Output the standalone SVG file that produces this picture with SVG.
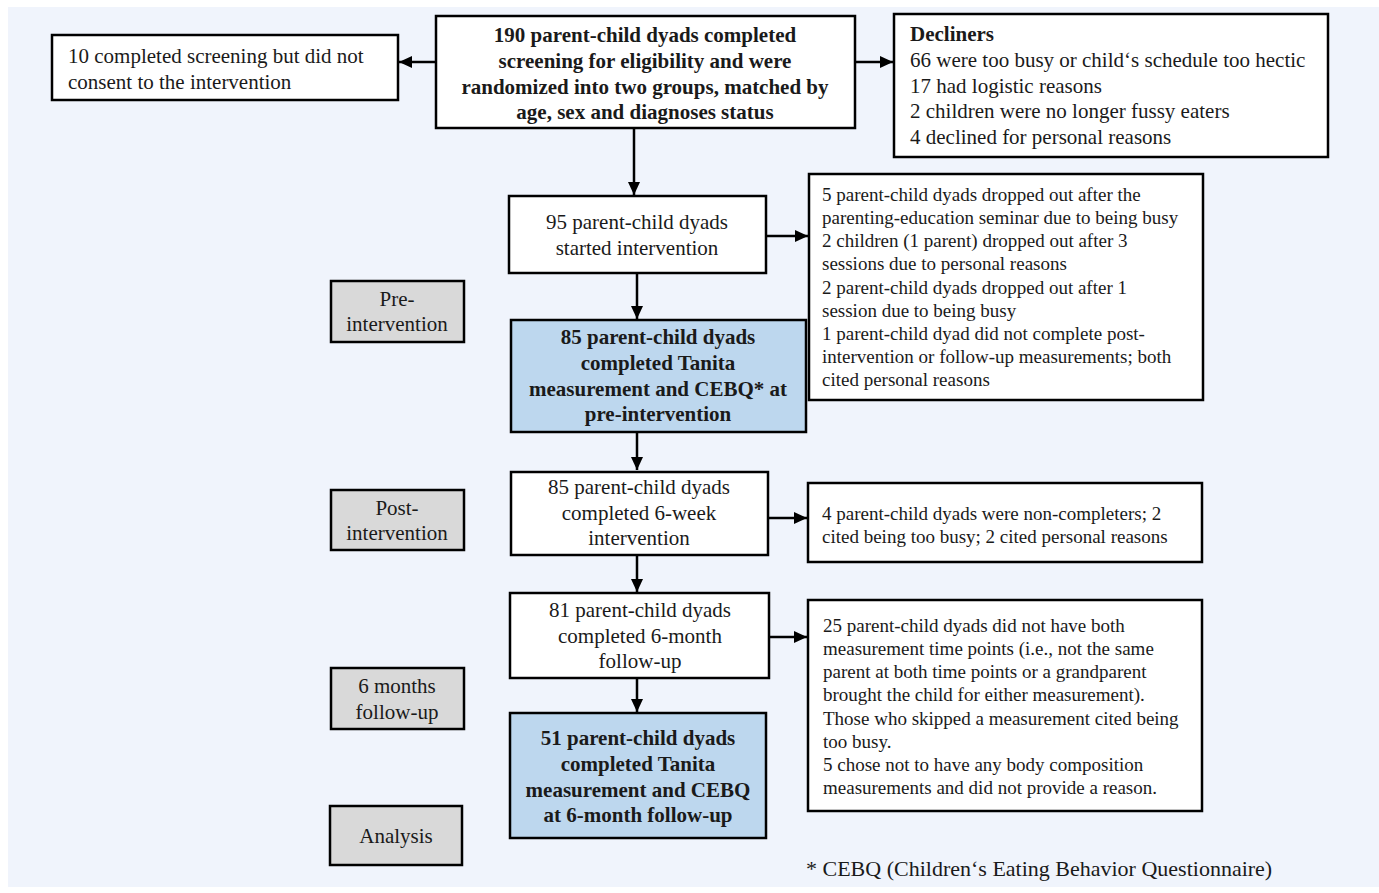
<svg xmlns="http://www.w3.org/2000/svg" width="1379" height="893" viewBox="0 0 1379 893">
<defs>
<style>
.box{fill:#ffffff;stroke:#000;stroke-width:2.5}
.blue{fill:#bdd7ee;stroke:#000;stroke-width:2.5}
.gray{fill:#d9d9d9;stroke:#000;stroke-width:2.5}
text{font-family:"Liberation Serif","Times New Roman",serif;fill:#1a1a1a}
.t{font-size:21px}
.c{text-anchor:middle}
.b{font-weight:bold}
.s{font-size:19px}
.f{font-size:22px}
.conn{stroke:#000;stroke-width:2.5;fill:none}
</style>
<marker id="ah" markerUnits="userSpaceOnUse" markerWidth="14" markerHeight="12" refX="13" refY="6" orient="auto">
<path d="M0,0 L13,6 L0,12 Z" fill="#000"/>
</marker>
</defs>
<rect x="0" y="0" width="1379" height="893" fill="#ffffff"/>
<rect x="8" y="7" width="1371" height="880" fill="#f0f4fc"/>

<g id="connectors">
<line class="conn" x1="436" y1="62" x2="399" y2="62" marker-end="url(#ah)"/>
<line class="conn" x1="855" y1="62" x2="893" y2="62" marker-end="url(#ah)"/>
<line class="conn" x1="634" y1="128" x2="634" y2="195" marker-end="url(#ah)"/>
<line class="conn" x1="766" y1="236" x2="808" y2="236" marker-end="url(#ah)"/>
<line class="conn" x1="637" y1="273" x2="637" y2="319" marker-end="url(#ah)"/>
<line class="conn" x1="637" y1="432" x2="637" y2="470" marker-end="url(#ah)"/>
<line class="conn" x1="768" y1="518" x2="807" y2="518" marker-end="url(#ah)"/>
<line class="conn" x1="637" y1="555" x2="637" y2="592" marker-end="url(#ah)"/>
<line class="conn" x1="769" y1="637" x2="807" y2="637" marker-end="url(#ah)"/>
<line class="conn" x1="637" y1="678" x2="637" y2="712" marker-end="url(#ah)"/>
</g>

<g id="not-consented">
<rect class="box" x="52" y="35" width="346" height="65"/>
<text class="t" x="68" y="63">10 completed screening but did not</text>
<text class="t" x="68" y="89">consent to the intervention</text>
</g>

<g id="screened">
<rect class="box" x="436" y="16" width="419" height="112"/>
<text class="t c b" x="645" y="42">190 parent-child dyads completed</text>
<text class="t c b" x="645" y="68">screening for eligibility and were</text>
<text class="t c b" x="645" y="94">randomized into two groups, matched by</text>
<text class="t c b" x="645" y="119">age, sex and diagnoses status</text>
</g>

<g id="decliners">
<rect class="box" x="894" y="14" width="434" height="143"/>
<text class="t b" x="910" y="41">Decliners</text>
<text class="t" x="910" y="67">66 were too busy or child‘s schedule too hectic</text>
<text class="t" x="910" y="93">17 had logistic reasons</text>
<text class="t" x="910" y="118">2 children were no longer fussy eaters</text>
<text class="t" x="910" y="144">4 declined for personal reasons</text>
</g>

<g id="started">
<rect class="box" x="509" y="196" width="257" height="77"/>
<text class="t c" x="637" y="229">95 parent-child dyads</text>
<text class="t c" x="637" y="255">started intervention</text>
</g>

<g id="dropout-1">
<rect class="box" x="809" y="174" width="394" height="226"/>
<text class="s" x="822" y="201">5 parent-child dyads dropped out after the</text>
<text class="s" x="822" y="224">parenting-education seminar due to being busy</text>
<text class="s" x="822" y="247">2 children (1 parent) dropped out after 3</text>
<text class="s" x="822" y="270">sessions due to personal reasons</text>
<text class="s" x="822" y="294">2 parent-child dyads dropped out after 1</text>
<text class="s" x="822" y="317">session due to being busy</text>
<text class="s" x="822" y="340">1 parent-child dyad did not complete post-</text>
<text class="s" x="822" y="363">intervention or follow-up measurements; both</text>
<text class="s" x="822" y="386">cited personal reasons</text>
</g>

<g id="label-pre">
<rect class="gray" x="331" y="281" width="133" height="61"/>
<text class="t c" x="397" y="306">Pre-</text>
<text class="t c" x="397" y="331">intervention</text>
</g>

<g id="pre-measure">
<rect class="blue" x="511" y="320" width="295" height="112"/>
<text class="t c b" x="658" y="344">85 parent-child dyads</text>
<text class="t c b" x="658" y="370">completed Tanita</text>
<text class="t c b" x="658" y="396">measurement and CEBQ* at</text>
<text class="t c b" x="658" y="421">pre-intervention</text>
</g>

<g id="completed-intervention">
<rect class="box" x="511" y="472" width="257" height="83"/>
<text class="t c" x="639" y="494">85 parent-child dyads</text>
<text class="t c" x="639" y="520">completed 6-week</text>
<text class="t c" x="639" y="545">intervention</text>
</g>

<g id="dropout-2">
<rect class="box" x="808" y="483" width="394" height="79"/>
<text class="s" x="822" y="520">4 parent-child dyads were non-completers; 2</text>
<text class="s" x="822" y="543">cited being too busy; 2 cited personal reasons</text>
</g>

<g id="label-post">
<rect class="gray" x="331" y="490" width="133" height="60"/>
<text class="t c" x="397" y="515">Post-</text>
<text class="t c" x="397" y="540">intervention</text>
</g>

<g id="followup">
<rect class="box" x="510" y="593" width="259" height="85"/>
<text class="t c" x="640" y="617">81 parent-child dyads</text>
<text class="t c" x="640" y="643">completed 6-month</text>
<text class="t c" x="640" y="668">follow-up</text>
</g>

<g id="dropout-3">
<rect class="box" x="808" y="600" width="394" height="211"/>
<text class="s" x="823" y="632">25 parent-child dyads did not have both</text>
<text class="s" x="823" y="655">measurement time points (i.e., not the same</text>
<text class="s" x="823" y="678">parent at both time points or a grandparent</text>
<text class="s" x="823" y="701">brought the child for either measurement).</text>
<text class="s" x="823" y="725">Those who skipped a measurement cited being</text>
<text class="s" x="823" y="748">too busy.</text>
<text class="s" x="823" y="771">5 chose not to have any body composition</text>
<text class="s" x="823" y="794">measurements and did not provide a reason.</text>
</g>

<g id="label-6months">
<rect class="gray" x="331" y="668" width="133" height="61"/>
<text class="t c" x="397" y="693">6 months</text>
<text class="t c" x="397" y="719">follow-up</text>
</g>

<g id="followup-measure">
<rect class="blue" x="510" y="713" width="256" height="125"/>
<text class="t c b" x="638" y="745">51 parent-child dyads</text>
<text class="t c b" x="638" y="771">completed Tanita</text>
<text class="t c b" x="638" y="797">measurement and CEBQ</text>
<text class="t c b" x="638" y="822">at 6-month follow-up</text>
</g>

<g id="label-analysis">
<rect class="gray" x="330" y="806" width="132" height="59"/>
<text class="t c" x="396" y="843">Analysis</text>
</g>

<g id="footnote">
<text class="f" x="806" y="876">* CEBQ (Children‘s Eating Behavior Questionnaire)</text>
</g>
</svg>
